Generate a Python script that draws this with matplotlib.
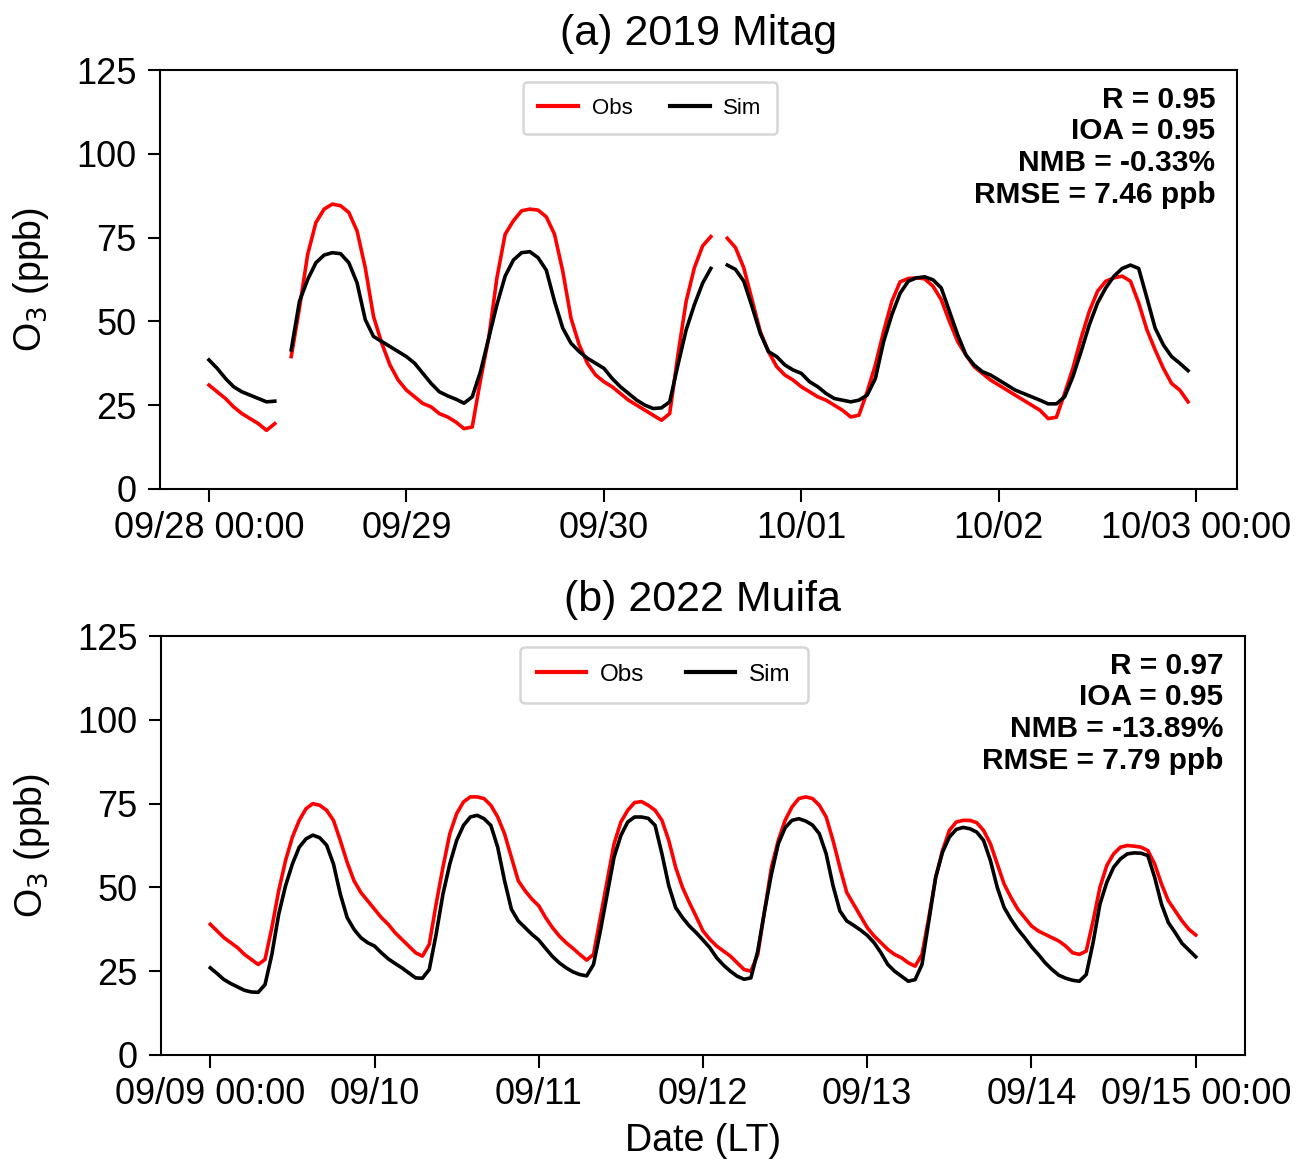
import numpy as np
import matplotlib
matplotlib.use("Agg")
import matplotlib.pyplot as plt

plt.rcParams['font.family'] = ['Liberation Sans', 'DejaVu Sans']

# (a) 2019 Mitag, hourly from 09/28 00:00 (nan = missing)
nan = np.nan
obs_a = [31, 29, 27, 24.5, 22.5, 21, 19.5, 17.5, 19.5, nan,
         39.5, 54, 70, 79.5, 83.5, 85, 84.5, 82.5, 77, 66,
         51.5, 43.5, 37, 32.5, 29.5, 27.5, 25.5, 24.5, 22.5, 21.5,
         20, 18, 18.5, 32.5, 45, 63, 76, 80, 83, 83.5,
         83.2, 81.2, 76, 65, 51, 43, 37.5, 34, 32, 30.5,
         28.5, 26.5, 25, 23.5, 22, 20.5, 22.5, 40, 56, 66,
         72.5, 75.3, nan, 74.8, 72, 66, 56.5, 47, 41, 36.5,
         34, 32.5, 30.5, 29, 27.5, 26.5, 25, 23.5, 21.5, 22,
         29, 37, 47, 56, 61.8, 62.8, 63, 62.7, 60.5, 56.5,
         50, 44, 40, 36.5, 34.5, 32.5, 31, 29.5, 28, 26.5,
         25, 23.5, 21, 21.4, 28.5, 36, 45, 53, 59, 62,
         63, 63.5, 62, 55.5, 47.5, 41.5, 36, 31.5, 29.5, 26]
sim_a = [38.5, 36, 33, 30.5, 29, 28, 27, 26, 26.2, nan,
         41.5, 56, 62.5, 67.5, 69.8, 70.5, 70.2, 67.5, 61.5, 50.5,
         45.5, 44, 42.5, 41, 39.5, 37.5, 34.5, 31.5, 29, 27.8,
         26.8, 25.6, 27.5, 35, 45, 55, 63.5, 68.3, 70.5, 70.8,
         69, 65.3, 56, 48, 43.5, 41, 39, 37.5, 36, 33,
         30.5, 28.5, 26.5, 25, 24, 24.2, 26, 37, 47.5, 55,
         61.4, 65.8, nan, 66.8, 65.5, 62, 54.5, 46.5, 41, 39.5,
         37, 35.5, 34.5, 32, 30.5, 28.5, 27, 26.5, 26, 26.5,
         28, 33, 44, 52, 58.4, 62, 63, 63.3, 62.4, 60,
         53, 46, 40, 37, 35, 34, 32.5, 31, 29.5, 28.5,
         27.5, 26.5, 25.4, 25.4, 27.5, 33.5, 41, 49, 55.5, 60,
         63.5, 65.8, 66.8, 65.8, 57, 48, 43, 39.5, 37.5, 35.3]

# (b) 2022 Muifa, hourly from 09/09 00:00 to 09/15 00:00
obs_b = [39, 37, 35, 33.5, 32, 30, 28.5, 27, 28.5, 38,
         49, 58, 65, 70, 73.5, 75, 74.5, 73, 70, 64,
         57.5, 52, 48.5, 46, 43.5, 41, 39, 36.5, 34.5, 32.5,
         30.5, 29.5, 33, 45, 56, 66, 72, 75.5, 77, 77,
         76.5, 74.5, 71, 66, 59, 52, 49, 46.5, 44.5, 41,
         38, 35.5, 33.5, 31.8, 30, 28.3, 30, 41, 52, 63,
         69.5, 73, 75.3, 75.6, 74.5, 73, 70, 64, 56, 50,
         45.5, 41.3, 37, 34.5, 32.5, 31, 29.5, 27.5, 25.5, 25,
         30, 43, 56, 64, 70, 74, 76.5, 77, 76.5, 74.5,
         71, 64, 56, 48.5, 45, 41.5, 38, 35.5, 33.5, 31.5,
         30, 29, 27.5, 26.5, 30, 41, 53, 61, 67, 69.5,
         70, 70, 69.3, 67, 63, 57, 51, 47, 43.5, 41,
         38.5, 37, 36, 35, 34, 32.5, 30.5, 30, 31, 40,
         50, 56.5, 60, 62, 62.5, 62.3, 62, 61, 57, 51,
         46, 43, 40, 37.5, 35.8]
sim_b = [26, 24.3, 22.5, 21.3, 20.3, 19.3, 18.8, 18.7, 21, 30,
         42, 50.5, 57, 62, 64.5, 65.6, 64.8, 62.6, 57, 48,
         41, 37.5, 35, 33.5, 32.5, 30.5, 28.7, 27.3, 26, 24.5,
         23, 22.9, 25.5, 36, 48, 57, 64, 68.5, 71, 71.5,
         70.5, 68.5, 62, 52, 43.5, 40, 38, 36, 34.3, 31.8,
         29.4, 27.5, 26, 24.8, 24, 23.6, 27, 37, 48, 59,
         65.5, 69.5, 71, 71, 70.6, 68.5, 60, 50.5, 44, 41,
         38.5, 36.5, 34.3, 32, 29, 26.8, 25, 23.5, 22.6, 23,
         31, 43, 54, 63, 67.8, 70, 70.5, 69.8, 68.6, 66,
         60, 50.5, 43, 40, 38.7, 37.3, 35.7, 33.5, 30.5, 27,
         25, 23.5, 22, 22.5, 27, 40, 53, 60.5, 65, 67.3,
         67.9, 67.5, 66.5, 64, 58, 50, 44, 40.5, 37.5, 35,
         32.3, 30, 27.5, 25.5, 23.8, 22.9, 22.3, 22, 24, 33.5,
         45, 51.5, 56, 58.5, 60, 60.3, 60.2, 59.5, 53, 45,
         39.5, 36.5, 33.3, 31.3, 29.3]

labels_a = ['09/28 00:00', '09/29', '09/30', '10/01', '10/02', '10/03 00:00']
labels_b = ['09/09 00:00', '09/10', '09/11', '09/12', '09/13', '09/14', '09/15 00:00']
stats_a = 'R = 0.95\nIOA = 0.95\nNMB = -0.33%\nRMSE = 7.46 ppb'
stats_b = 'R = 0.97\nIOA = 0.95\nNMB = -13.89%\nRMSE = 7.79 ppb'

fig = plt.figure(figsize=(13.06, 11.68), dpi=100)
ax1 = fig.add_axes([160/1306, 1-489/1168, (1237-160)/1306, 419/1168])
ax2 = fig.add_axes([161/1306, 1-1055/1168, (1245-161)/1306, 419/1168])

panels = [
    (ax1, obs_a, sim_a, labels_a, '(a) 2019 Mitag', stats_a, (0.455, 0.971), 16, 1.8),
    (ax2, obs_b, sim_b, labels_b, '(b) 2022 Muifa', stats_b, (0.464, 0.974), 17.5, 2.0),
]

for ax, obs, sim, labels, title, stats, anchor, lfs, hl in panels:
    hours = np.arange(len(obs))
    ax.plot(hours, obs, color='red', lw=2.6, label='Obs')
    ax.plot(hours, sim, color='black', lw=2.6, label='Sim')
    ax.set_ylim(0, 125)
    ax.set_yticks([0, 25, 50, 75, 100, 125])
    ax.set_xticks(np.arange(len(labels)) * 24)
    ax.set_xticklabels(labels)
    ax.tick_params(labelsize=26, length=9, width=1.5)
    ax.tick_params(axis='y', pad=8)
    ax.tick_params(axis='x', pad=7)
    for sp in ax.spines.values():
        sp.set_linewidth(1.5)
    ax.set_ylabel('O$_3$ (ppb)', fontsize=27, labelpad=18)
    ax.set_title(title, fontsize=31, pad=18)
    leg = ax.legend(loc='upper center', bbox_to_anchor=anchor, ncol=2,
                    fontsize=lfs, handlelength=hl, handletextpad=0.6,
                    columnspacing=1.7, borderpad=0.7, borderaxespad=0)
    leg.get_frame().set_linewidth(1.8)
    for ln in leg.get_lines():
        ln.set_linewidth(3)
    ax.text(0.98, 0.963, stats, transform=ax.transAxes, ha='right', va='top',
            fontsize=21.5, fontweight='bold', linespacing=1.17)

ax2.set_xlabel('Date (LT)', fontsize=27, labelpad=8)

fig.savefig('out.png', dpi=100)
